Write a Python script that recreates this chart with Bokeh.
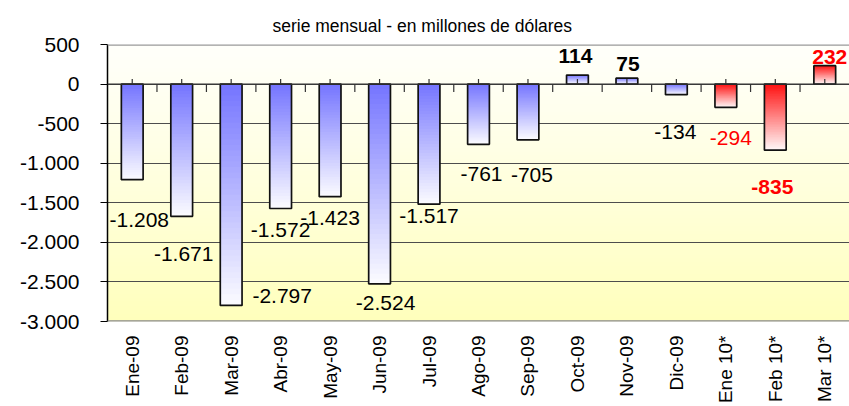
import numpy as np
from bokeh.plotting import figure
from bokeh.models import Range1d, FixedTicker, ColumnDataSource, LabelSet, Span, Title
from bokeh.core.properties import value
from bokeh.embed import file_html
from bokeh.resources import INLINE

# ---------------- data ----------------
categories = ["Ene-09", "Feb-09", "Mar-09", "Abr-09", "May-09", "Jun-09", "Jul-09",
              "Ago-09", "Sep-09", "Oct-09", "Nov-09", "Dic-09", "Ene 10*", "Feb 10*", "Mar 10*"]
values = [-1208, -1671, -2797, -1572, -1423, -2524, -1517, -761, -705, 114, 75, -134, -294, -835, 232]
is_2010 = [False] * 12 + [True] * 3
y_ticks = [-3000, -2500, -2000, -1500, -1000, -500, 0, 500]
subtitle = "serie mensual - en millones de dólares"

# ---------------- styles / label placement (pixels) ----------------
label_bold = [False] * 9 + [True, True, False, False, True, True]
label_dx_px = [7, 2, 51, 0, 0, 6, 0, 3, 4, -2, 1, -1, 5, -3, 5]
label_dy_px = [41, 38, -9, 22, 21, 19, 12, 30, 35, -19, -14, 38, 31, 37, -9]

FONT = "Liberation Sans"
W, H = 849, 406
left, top, bottom = 107, 44, 83
frame_w = W - left
frame_h = H - top - bottom
n = len(categories)
px_per_cat = frame_w / n
y0, y1 = y_ticks[0], y_ticks[-1]
upp = (y1 - y0) / frame_h          # data units per pixel (y)

p = figure(width=W, height=H, output_backend="svg", toolbar_location=None,
           x_range=Range1d(0, n), y_range=Range1d(y0, y1),
           min_border_left=left, min_border_top=top, min_border_bottom=bottom,
           min_border_right=0)
p.outline_line_color = None
p.background_fill_color = "white"
p.border_fill_color = "white"
p.xgrid.visible = False

# subtitle
p.title = Title(text=subtitle, align="left", offset=165, text_font=FONT,
                text_font_size="17.5px", text_font_style="normal", text_color="black",
                standoff=17)

# background gradient (white-ish at top to pale yellow at bottom)
nb = 70
edges = np.linspace(y1, y0, nb + 1)
t = np.linspace(0, 1, nb)
bcol = ["#%02x%02x%02x" % (255, 255, int(round(250 - 62 * tt ** 1.1))) for tt in t]
bbot = np.maximum(edges[1:] - upp, y0)
p.quad(left=0, right=n, top=edges[:-1], bottom=bbot, fill_color=bcol,
       line_color=None, level="image")

# grid
p.ygrid.ticker = FixedTicker(ticks=y_ticks)
p.ygrid.grid_line_color = "#4d4d4d"
p.ygrid.grid_line_width = 1

# y axis
p.yaxis.ticker = FixedTicker(ticks=y_ticks)
p.yaxis.major_label_overrides = {t_: f"{t_:,}".replace(",", ".") for t_ in y_ticks}
p.yaxis.major_label_text_font = FONT
p.yaxis.major_label_text_font_size = "21px"
p.yaxis.major_label_text_color = "black"
p.yaxis.major_tick_out = 7
p.yaxis.major_tick_in = 0
p.yaxis.minor_tick_out = 0
p.yaxis.minor_tick_in = 0
p.yaxis.major_label_standoff = 21
p.yaxis.axis_line_color = "black"
p.yaxis.axis_line_width = 1.5
p.yaxis.major_tick_line_color = "black"

# x axis: category labels, vertical
xc = [i + 0.5 for i in range(n)]
p.xaxis.ticker = FixedTicker(ticks=xc)
p.xaxis.major_label_overrides = {x: c for x, c in zip(xc, categories)}
p.xaxis.major_label_orientation = np.pi / 2
p.xaxis.major_label_text_font = FONT
p.xaxis.major_label_text_font_size = "19px"
p.xaxis.major_label_text_color = "black"
p.xaxis.major_label_standoff = 14
p.xaxis.major_tick_out = 0
p.xaxis.major_tick_in = 0
p.xaxis.minor_tick_out = 0
p.xaxis.minor_tick_in = 0
p.xaxis.axis_line_color = None

# top / bottom frame lines
p.add_layout(Span(location=y1, dimension="width", line_color="#9a9a9a", line_width=2.5))
p.add_layout(Span(location=y0, dimension="width", line_color="#8a8a8a", line_width=2.5))

# gradient bars (saturated at top, fading to white at bottom)
blue = (118, 118, 255)
blue_end = (250, 250, 255)
red = (255, 20, 20)
red_end = (255, 246, 246)
nseg = 40
L, R, T, B, C = [], [], [], [], []
half = 0.22
for i, v in enumerate(values):
    c = xc[i]
    hi, lo = max(v, 0), min(v, 0)
    e = np.linspace(hi, lo, nseg + 1)
    c0, c1 = (red, red_end) if is_2010[i] else (blue, blue_end)
    for k in range(nseg):
        f = k / (nseg - 1)
        col = tuple(int(round(c0[j] + (c1[j] - c0[j]) * f)) for j in range(3))
        L.append(c - half); R.append(c + half)
        T.append(e[k]); B.append(max(e[k + 1] - upp, lo))
        C.append("#%02x%02x%02x" % col)
p.quad(left=L, right=R, top=T, bottom=B, fill_color=C, line_color=None)

p.quad(left=[x - half for x in xc], right=[x + half for x in xc],
       top=[max(v, 0) for v in values], bottom=[min(v, 0) for v in values],
       fill_color=None, line_color="#111111", line_width=1.7)

# zero line and category tick marks
p.add_layout(Span(location=0, dimension="width", line_color="#333333", line_width=1.2))
bx = list(range(1, n))
p.segment(x0=bx, x1=bx, y0=[0] * len(bx), y1=[-8 * upp] * len(bx), line_color="#333333", line_width=1.2)
p.segment(x0=xc, x1=xc, y0=[0] * n, y1=[5 * upp] * n, line_color="#333333", line_width=1.2)

# data labels
lab_src = ColumnDataSource(dict(
    x=[xc[i] + label_dx_px[i] / px_per_cat for i in range(n)],
    y=[values[i] - label_dy_px[i] * upp for i in range(n)],
    text=[f"{v:,}".replace(",", ".") for v in values],
    color=["#ff0000" if r else "black" for r in is_2010],
    style=["bold" if b else "normal" for b in label_bold],
))
p.add_layout(LabelSet(x="x", y="y", text="text", source=lab_src, text_align="center",
                      text_baseline="middle", text_font=value(FONT), text_font_size="21px",
                      text_color="color", text_font_style="style"))

open("out.html", "w").write(file_html(p, INLINE))
